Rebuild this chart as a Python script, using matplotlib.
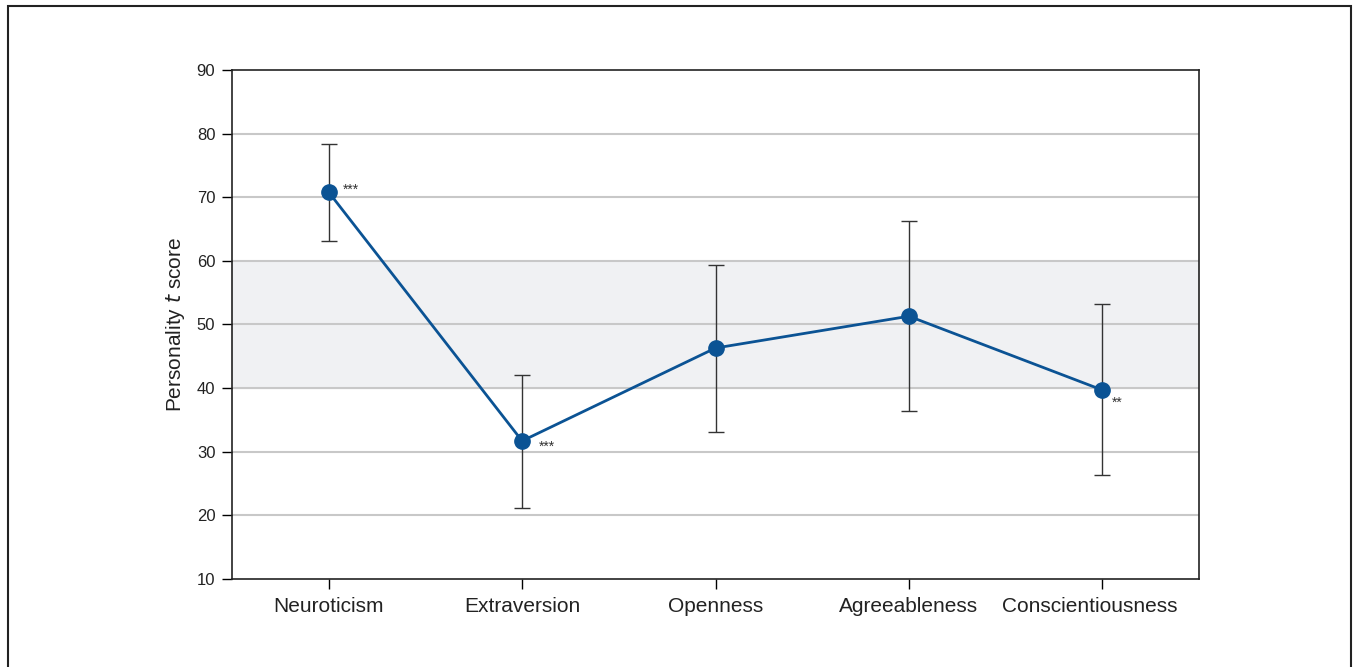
import matplotlib
matplotlib.use("Agg")
import matplotlib.pyplot as plt
import matplotlib.transforms as mtransforms
from matplotlib.patches import Rectangle

categories = ["Neuroticism", "Extraversion", "Openness", "Agreeableness", "Conscientiousness"]
means = [70.8, 31.7, 46.3, 51.3, 39.7]
upper = [78.4, 42.1, 59.4, 66.3, 53.2]
lower = [63.1, 21.2, 33.1, 36.4, 26.3]
signif = ["***", "***", "", "", "**"]
yticks = [10, 20, 30, 40, 50, 60, 70, 80, 90]
star_offsets = [(10, 2), (12, -4), (0, 0), (0, 0), (7, -9)]

plt.rcParams['font.family'] = ['Liberation Sans', 'DejaVu Sans']
text_color = '#222222'

fig = plt.figure(figsize=(13.54, 6.67), dpi=100)
W, H = 1354, 667
# outer frame
fig.patches.append(Rectangle((8 / W, -0.1), (1351 - 8) / W, 1 + 0.1 - 6 / H,
                             transform=fig.transFigure, fill=False,
                             edgecolor='#222222', linewidth=1.5))

ax = fig.add_axes([232 / W, 1 - 579 / H, (1199 - 232) / W, (579 - 70) / H])
x = list(range(len(categories)))
ax.set_xlim(-0.5, len(categories) - 0.5)
ax.set_ylim(10, 90)

ax.axhspan(40, 60, color='#f0f1f3', zorder=0)
for t in yticks[1:-1]:
    ax.axhline(t, color='#c8c8c8', linewidth=1.5, zorder=1)

yerr = [[m - l for m, l in zip(means, lower)], [u - m for m, u in zip(means, upper)]]
ax.errorbar(x, means, yerr=yerr, fmt='none', ecolor='#333333', elinewidth=1.0,
            capsize=6, capthick=1.0, zorder=2)
ax.plot(x, means, color='#0b5394', linewidth=2, marker='o', markersize=11,
        markerfacecolor='#0b5394', markeredgecolor='#0b5394', zorder=3)
for xi, m, s, off in zip(x, means, signif, star_offsets):
    if s:
        ax.annotate(s, (xi, m), xytext=off, textcoords='offset points',
                    fontsize=10, color='#333333', va='center', ha='left')

ax.set_xticks(x)
ax.set_xticklabels(categories, fontsize=15, color=text_color)
ax.set_yticks(yticks)
ax.set_yticklabels([str(t) for t in yticks], fontsize=12, color=text_color)
ax.tick_params(axis='y', length=7, width=1, direction='out', pad=5)
ax.tick_params(axis='x', length=7, width=1, direction='out', pad=6)
ax.set_ylabel(r"Personality $\it{t}$ score", fontsize=15, labelpad=7, color=text_color)
for sp in ax.spines.values():
    sp.set_color('#222222')
    sp.set_linewidth(1.2)

# last label sits slightly left of its tick in the reference
last = ax.get_xticklabels()[-1]
last.set_transform(last.get_transform() + mtransforms.ScaledTranslation(-9 / 72, 0, fig.dpi_scale_trans))

fig.savefig("out.png", dpi=100)
